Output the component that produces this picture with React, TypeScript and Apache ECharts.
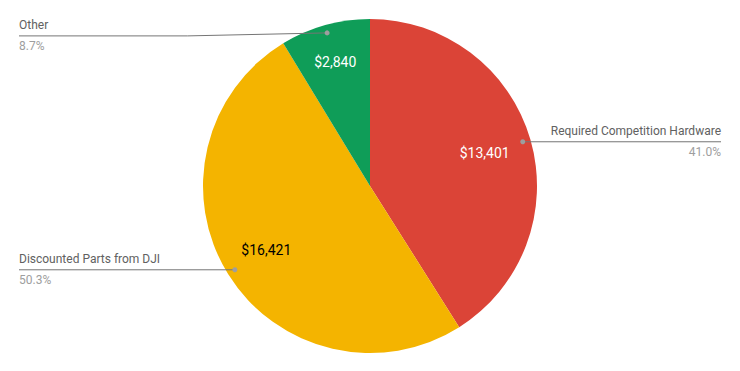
import React, { useEffect, useRef } from "react";
import * as echarts from "echarts";

const categories = ["Required Competition Hardware", "Discounted Parts from DJI", "Other"];
const values = [13401, 16421, 2840];
const colors = ["#DB4437", "#F4B400", "#0F9D58"];
const valueLabelColors = ["#ffffff", "#000000", "#ffffff"];
const valueLabelRadiusScale = [1.38, 1.41, 1.49];
const outerLabelShiftY = [0, 0, 3];

const CX = 370;
const CY = 186;
const R = 167;
const DOT_R = 159;

export default function App() {
  const ref = useRef<HTMLDivElement>(null);
  useEffect(() => {
    if (!ref.current) return;
    const chart = echarts.init(ref.current, null, { renderer: "svg" });
    const total = values.reduce((a, b) => a + b, 0);
    const data = categories.map((name, i) => ({
      name,
      value: values[i],
      itemStyle: { color: colors[i] },
      label: { color: valueLabelColors[i] },
    }));
    let cum = 0;
    const dots = values.map((v) => {
      const mid = (cum + v / 2) / total;
      cum += v;
      const theta = ((90 - mid * 360) * Math.PI) / 180;
      return {
        type: "circle",
        shape: { cx: CX + DOT_R * Math.cos(theta), cy: CY - DOT_R * Math.sin(theta), r: 2.5 },
        style: { fill: "#9e9e9e" },
        z: 100,
        silent: true,
      };
    });
    chart.setOption({
      animation: false,
      textStyle: { fontFamily: "Roboto" },
      graphic: dots,
      series: [
        {
          type: "pie",
          center: [CX, CY],
          radius: [0, R],
          startAngle: 90,
          clockwise: true,
          silent: true,
          data,
          label: {
            show: true,
            position: "inside",
            fontSize: 14,
            fontFamily: "Roboto",
            formatter: (p: any) => "$" + Number(p.value).toLocaleString("en-US"),
          },
          labelLine: { show: false },
          labelLayout: (params: any) => {
            const lr = params.labelRect;
            const lx = lr.x + lr.width / 2;
            const ly = lr.y + lr.height / 2;
            const k = valueLabelRadiusScale[params.dataIndex] - 1;
            return { dx: (lx - CX) * k, dy: (ly - CY) * k };
          },
        },
        {
          type: "pie",
          center: [CX, CY],
          radius: [0, DOT_R],
          startAngle: 90,
          clockwise: true,
          silent: true,
          z: 10,
          itemStyle: { color: "rgba(0,0,0,0)" },
          data: categories.map((name, i) => ({ name, value: values[i] })),
          label: {
            show: true,
            position: "outside",
            alignTo: "edge",
            edgeDistance: 19,
            formatter: (p: any) =>
              "{n|" + p.name + "}\n{p|" + ((p.value / total) * 100).toFixed(1) + "%}",
            rich: {
              n: { fontSize: 12, color: "#616161", lineHeight: 21, fontFamily: "Roboto" },
              p: { fontSize: 12, color: "#9e9e9e", lineHeight: 21, fontFamily: "Roboto" },
            },
          },
          labelLine: {
            show: true,
            length: 0,
            length2: 10,
            lineStyle: { color: "#757575", width: 1 },
          },
          labelLayout: (params: any) => {
            const pts = params.labelLinePoints;
            if (!pts) return {};
            const shift = outerLabelShiftY[params.dataIndex] || 0;
            const lr = params.labelRect;
            const end = pts[pts.length - 1];
            const left = lr.x + lr.width / 2 < CX;
            const farX = left ? lr.x : lr.x + lr.width;
            const nearX = left ? lr.x + lr.width : lr.x;
            const y = end[1] + shift;
            const midX = shift ? (pts[0][0] + nearX) / 2 : pts[1][0];
            return {
              dy: shift,
              labelLinePoints: [pts[0], [midX, y], [farX, y]],
            };
          },
        },
      ],
    });
    return () => chart.dispose();
  }, []);
  return (
    <div
      ref={ref}
      style={{ position: "fixed", left: 0, top: 0, width: 740, height: 371, background: "#fff" }}
    />
  );
}
